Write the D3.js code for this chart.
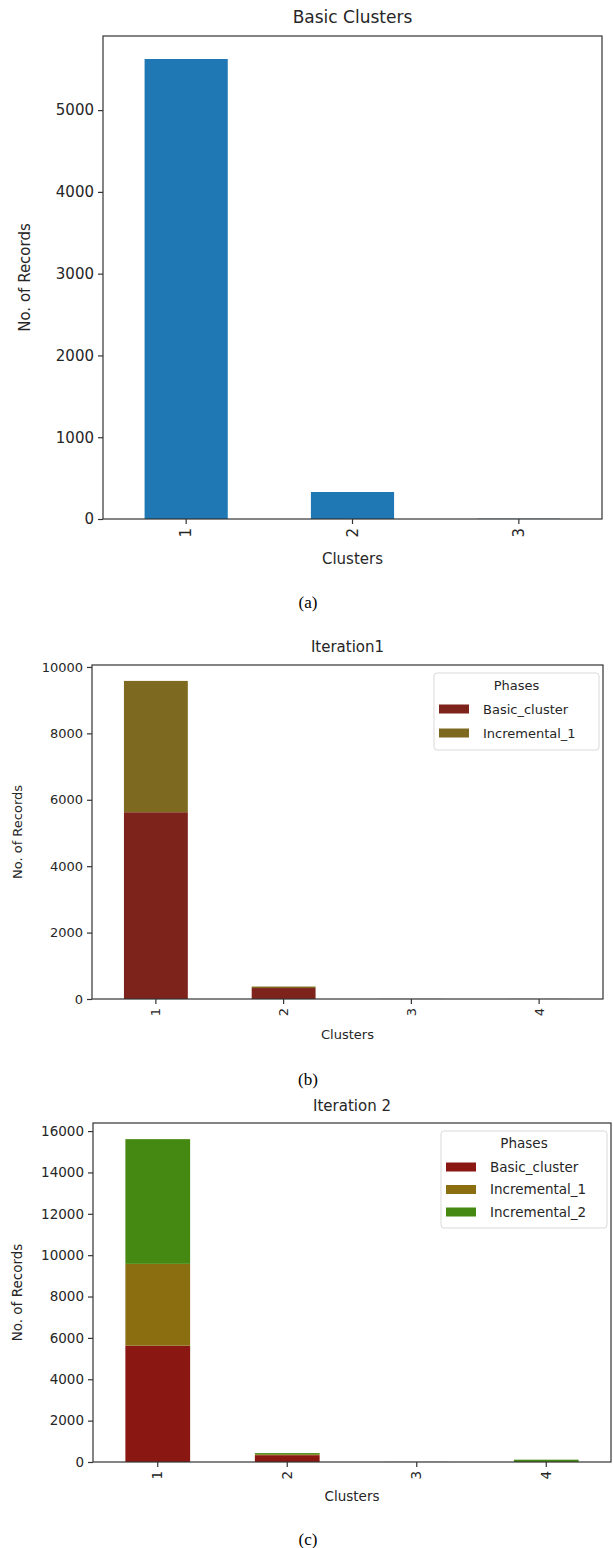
<!DOCTYPE html>
<html><head><meta charset="utf-8">
<script src="https://cdn.jsdelivr.net/npm/d3@7/dist/d3.min.js"></script>
<style>body{margin:0;background:#fff}svg{display:block}</style>
</head><body>
<svg id="c" width="613" height="1548"></svg>
<script>
// ---- data ----
const clustersA = ["1", "2", "3"];
const basicA = [5625, 330, 4];

const clustersB = ["1", "2", "3", "4"];
const basicB = [5625, 330, 3, 1];
const inc1B = [3955, 45, 0, 1];

const clustersC = ["1", "2", "3", "4"];
const basicC = [5625, 330, 3, 1];
const inc1C = [3955, 45, 0, 1];
const inc2C = [6030, 55, 2, 110];

const ticksA = [0, 1000, 2000, 3000, 4000, 5000];
const ticksB = [0, 2000, 4000, 6000, 8000, 10000];
const ticksC = [0, 2000, 4000, 6000, 8000, 10000, 12000, 14000, 16000];

const phasesB = ["Basic_cluster", "Incremental_1"];
const phasesC = ["Basic_cluster", "Incremental_1", "Incremental_2"];

const svg = d3.select("#c");
const FONT = "DejaVu Sans, sans-serif";
const TXT = "#262626";

function drawChart(o) {
  const g = svg.append("g");
  const x = d3.scaleBand().domain(o.cats).range([o.l, o.r]).paddingInner(0.5).paddingOuter(0.25);
  const totals = o.cats.map((c, i) => d3.sum(o.series, s => s[i]));
  const y = d3.scaleLinear().domain([0, d3.max(totals) * 1.05]).range([o.b, o.t]);

  // bars (stacked)
  o.series.forEach((s, si) => {
    const top = i => d3.sum(o.series.slice(0, si + 1), q => q[i]);
    const bot = i => d3.sum(o.series.slice(0, si), q => q[i]);
    g.selectAll(null).data(o.cats).enter().append("rect")
      .attr("x", d => x(d))
      .attr("width", x.bandwidth())
      .attr("y", (d, i) => y(top(i)))
      .attr("height", (d, i) => y(bot(i)) - y(top(i)))
      .attr("fill", o.colors[si]);
  });

  // frame
  g.append("rect").attr("x", o.l).attr("y", o.t).attr("width", o.r - o.l).attr("height", o.b - o.t)
    .attr("fill", "none").attr("stroke", "#333").attr("stroke-width", 1.2);

  // y axis
  const ya = g.append("g").attr("transform", `translate(${o.l},0)`)
    .call(d3.axisLeft(y).tickValues(o.ticks).tickSize(5).tickPadding(4).tickFormat(d3.format("d")));
  ya.select(".domain").remove();
  ya.selectAll("line").attr("stroke", "#333").attr("stroke-width", 1.2);
  ya.selectAll("text").attr("font-family", FONT).attr("font-size", o.fs).attr("fill", TXT);

  // x axis
  const xa = g.append("g").attr("transform", `translate(0,${o.b})`)
    .call(d3.axisBottom(x).tickSize(5).tickPadding(0));
  xa.select(".domain").remove();
  xa.selectAll("line").attr("stroke", "#333").attr("stroke-width", 1.2);
  xa.selectAll("text").attr("font-family", FONT).attr("font-size", o.fs).attr("fill", TXT)
    .attr("transform", "rotate(-90)").attr("text-anchor", "end")
    .attr("x", -9).attr("y", 0).attr("dy", "0.35em");

  // labels
  g.append("text").attr("x", (o.l + o.r) / 2).attr("y", o.titleY).attr("text-anchor", "middle")
    .attr("font-family", FONT).attr("font-size", o.tfs).attr("fill", TXT).text(o.title);
  g.append("text").attr("x", (o.l + o.r) / 2).attr("y", o.xlabY).attr("text-anchor", "middle")
    .attr("font-family", FONT).attr("font-size", o.fs).attr("fill", TXT).text("Clusters");
  g.append("text").attr("transform", `translate(${o.ylabX},${(o.t + o.b) / 2}) rotate(-90)`)
    .attr("text-anchor", "middle").attr("font-family", FONT).attr("font-size", o.fs).attr("fill", TXT)
    .text("No. of Records");
  g.append("text").attr("x", 308).attr("y", o.capY).attr("text-anchor", "middle")
    .attr("font-family", "Liberation Serif, Times New Roman, serif").attr("font-size", 17).attr("fill", "#000")
    .text(o.caption);

  // legend
  if (o.legend) {
    const L = o.legend;
    const lg = g.append("g");
    lg.append("rect").attr("x", L.x).attr("y", L.y).attr("width", L.w).attr("height", L.h)
      .attr("rx", 3).attr("fill", "#fff").attr("fill-opacity", 0.85).attr("stroke", "#d9d9d9");
    lg.append("text").attr("x", L.x + L.w / 2).attr("y", L.y + 17).attr("text-anchor", "middle")
      .attr("font-family", FONT).attr("font-size", o.lfs).attr("fill", TXT).text("Phases");
    L.names.forEach((nm, i) => {
      const yy = L.y + 36 + i * L.dy;
      lg.append("rect").attr("x", L.x + 5).attr("y", yy - 4.5).attr("width", 30).attr("height", 9)
        .attr("fill", o.colors[i]);
      lg.append("text").attr("x", L.x + 49).attr("y", yy).attr("dy", "0.35em")
        .attr("font-family", FONT).attr("font-size", o.lfs).attr("fill", TXT).text(nm);
    });
  }
}

drawChart({
  cats: clustersA, series: [basicA], colors: ["#1f77b4"], ticks: ticksA,
  l: 103, r: 602, t: 36, b: 519, fs: 15, tfs: 17,
  title: "Basic Clusters", titleY: 23, xlabY: 564, ylabX: 30, capY: 608, caption: "(a)"
});

drawChart({
  cats: clustersB, series: [basicB, inc1B], colors: ["#7e221c", "#7d691f"], ticks: ticksB,
  l: 92, r: 603, t: 665, b: 999, fs: 13, tfs: 15, lfs: 13,
  title: "Iteration1", titleY: 652, xlabY: 1039, ylabX: 22, capY: 1085, caption: "(b)",
  legend: { x: 434, y: 673, w: 165, h: 77, dy: 24, names: phasesB }
});

drawChart({
  cats: clustersC, series: [basicC, inc1C, inc2C], colors: ["#8a1712", "#8a6e10", "#458913"], ticks: ticksC,
  l: 93, r: 611, t: 1123, b: 1462, fs: 13.5, tfs: 15, lfs: 13.5,
  title: "Iteration 2", titleY: 1111, xlabY: 1501, ylabX: 22, capY: 1545, caption: "(c)",
  legend: { x: 441, y: 1131, w: 166, h: 97, dy: 22.5, names: phasesC }
});
</script>
</body></html>
